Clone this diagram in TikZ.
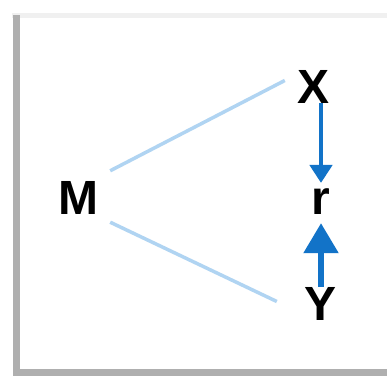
\documentclass[tikz,border=0pt]{standalone}
\usepackage{fontspec}
\setmainfont{Liberation Sans}
\usepackage{xcolor}
\usetikzlibrary{arrows.meta,positioning,calc}
\definecolor{medBlue}{RGB}{18,115,200}
\definecolor{medPale}{RGB}{176,212,242}
\definecolor{frameGray}{RGB}{175,175,175}

\begin{document}
\begin{tikzpicture}[
        x=1pt, y=-1pt,
        var/.style={inner sep=0pt, anchor=base, font=\fontsize{48}{48}\selectfont\bfseries},
        link/.style={medPale, line width=3.5pt},
        effect/.style={medBlue, line width=4.5pt}
      ]
        \useasboundingbox (0,0) rectangle (387,378);
        % frame with shadow
        \fill[gray!12] (12,13) rectangle (387,18);
        \fill[frameGray] (13,15) rectangle (20,376);
        \fill[frameGray] (15,369) rectangle (387,376);
        \fill[white] (20,18) rectangle (387,369);
        \node[var] (M) at (78,214) {M};
        \node[var] (X) at (314,103) {X};
        \node[var] (r) at (321,214) {r};
        \node[var] (Y) at (321,320) {Y};
        \draw[link] ([shift={(12,-10)}]M.north east) -- ([shift={(-13,-6)}]X.west);
        \draw[link] ([shift={(12,8)}]M.south east) -- ([shift={(-28,-2)}]Y.west);
        \draw[effect, -{Triangle[width=22pt,length=18pt]}, shorten >=5pt] (X.south -| r.north) -- (r.north);
        \draw[effect, line width=5.5pt, -{Triangle[width=34pt,length=30pt]}, shorten >=9pt] (Y.north) -- (r.south);
      \end{tikzpicture}
\end{document}
